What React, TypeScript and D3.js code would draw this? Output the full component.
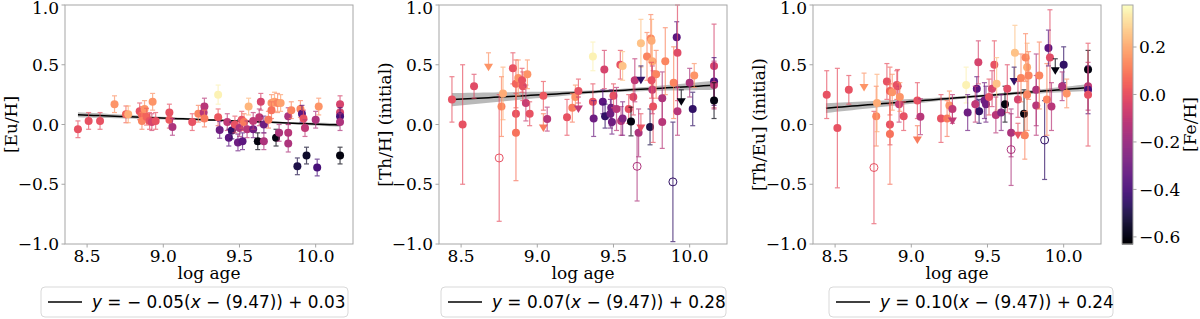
import React, { useRef, useEffect } from 'react';
import * as d3 from 'd3';

const W = 1200;
const H = 319;

const ageDomain = [8.355, 10.245];
const valDomain = [-1.0, 1.0];
const fehDomain = [-0.63, 0.377];
const xTicks = [8.5, 9.0, 9.5, 10.0];
const yTicks = [-1.0, -0.5, 0.0, 0.5, 1.0];
const cbTicks = [-0.6, -0.4, -0.2, 0.0, 0.2];

// [log age, [Fe/H], value, error, kind]  kind: 0 detection, 1 upper limit, 2 open circle
type Star = [number, number, number, number, number];

const euH: Star[] = [
  [8.44, 0.0, -0.04, 0.07, 0], [8.51, 0.0, 0.03, 0.07, 0], [8.585, 0.0, 0.03, 0.07, 0],
  [8.68, 0.15, 0.17, 0.07, 0], [8.755, 0.05, 0.085, 0.07, 0], [8.77, 0.2, 0.085, 0.07, 0],
  [8.845, 0.0, 0.11, 0.07, 0], [8.86, 0.05, 0.08, 0.07, 0], [8.86, 0.12, 0.03, 0.07, 0],
  [8.877, 0.15, 0.13, 0.07, 0], [8.89, 0.05, 0.065, 0.07, 0], [8.91, 0.0, 0.03, 0.07, 0],
  [8.93, 0.15, 0.19, 0.07, 0], [8.925, -0.05, 0.02, 0.07, 0], [8.95, 0.0, 0.03, 0.07, 0],
  [9.04, 0.0, 0.10, 0.07, 0], [9.04, 0.03, 0.04, 0.07, 0], [9.06, -0.15, -0.02, 0.07, 0],
  [9.19, 0.0, 0.02, 0.07, 0], [9.23, 0.12, 0.09, 0.07, 0], [9.27, -0.12, 0.15, 0.07, 0],
  [9.265, -0.12, 0.10, 0.07, 0], [9.27, 0.1, 0.05, 0.07, 0], [9.36, 0.35, 0.25, 0.08, 0],
  [9.36, 0.02, 0.06, 0.07, 0], [9.37, -0.3, -0.045, 0.07, 0], [9.42, -0.1, 0.02, 0.07, 0],
  [9.43, -0.35, -0.11, 0.07, 0], [9.45, -0.45, -0.05, 0.07, 0], [9.47, 0.0, 0.0, 0.07, 0],
  [9.49, -0.3, -0.15, 0.07, 0], [9.50, -0.15, -0.03, 0.07, 0], [9.52, -0.35, -0.14, 0.07, 0],
  [9.515, 0.0, 0.04, 0.07, 0], [9.53, 0.1, 0.02, 0.07, 0], [9.56, 0.22, 0.15, 0.07, 0],
  [9.55, -0.12, -0.04, 0.07, 0], [9.59, -0.3, -0.04, 0.07, 0], [9.59, -0.1, 0.03, 0.07, 0],
  [9.62, -0.6, -0.14, 0.07, 0], [9.64, -0.05, 0.19, 0.07, 0], [9.63, -0.1, 0.06, 0.07, 0],
  [9.66, -0.15, -0.14, 0.07, 0], [9.66, -0.3, 0.0, 0.07, 0], [9.69, 0.1, 0.04, 0.07, 0],
  [9.71, 0.15, 0.18, 0.07, 0], [9.73, 0.18, 0.19, 0.08, 0], [9.75, 0.12, 0.18, 0.08, 0],
  [9.77, 0.18, 0.18, 0.07, 0], [9.71, 0.08, 0.12, 0.07, 0], [9.74, -0.6, -0.11, 0.07, 0],
  [9.76, -0.15, -0.07, 0.07, 0], [9.82, -0.15, 0.07, 0.07, 0], [9.82, -0.12, -0.07, 0.07, 0],
  [9.82, -0.15, -0.16, 0.07, 0], [9.84, 0.12, 0.12, 0.07, 0], [9.88, -0.5, -0.35, 0.07, 0],
  [9.90, 0.12, 0.13, 0.07, 0], [9.91, -0.35, 0.09, 0.07, 0], [9.92, 0.0, 0.05, 0.07, 0],
  [9.93, -0.1, -0.03, 0.07, 0], [9.94, -0.55, -0.26, 0.07, 0], [10.0, -0.15, 0.04, 0.07, 0],
  [10.01, -0.4, -0.36, 0.07, 0], [10.02, 0.15, 0.15, 0.07, 0], [10.16, -0.05, 0.17, 0.07, 0],
  [10.16, -0.05, 0.10, 0.07, 0], [10.16, -0.4, 0.07, 0.07, 0], [10.16, -0.15, 0.02, 0.07, 0],
  [10.16, -0.6, -0.26, 0.07, 0],
];

const thH: Star[] = [
  [8.44, 0.0, 0.21, 0.19, 0], [8.51, 0.0, 0.0, 0.5, 0], [8.585, -0.02, 0.32, 0.1, 0],
  [8.68, 0.15, 0.48, 0.12, 1], [8.75, 0.0, -0.28, 0.53, 2], [8.765, 0.12, 0.15, 0.25, 0],
  [8.775, 0.2, 0.26, 0.22, 0], [8.84, 0.0, 0.47, 0.13, 0], [8.86, 0.0, 0.09, 0.17, 0],
  [8.86, 0.08, -0.07, 0.4, 0], [8.86, 0.05, 0.34, 0.2, 0], [8.875, 0.15, 0.39, 0.15, 0],
  [8.90, 0.0, 0.37, 0.1, 0], [8.905, 0.0, 0.32, 0.12, 0], [8.925, -0.08, 0.18, 0.15, 0],
  [8.935, 0.15, 0.42, 0.12, 0], [8.95, 0.0, 0.09, 0.1, 0], [9.04, 0.02, 0.24, 0.12, 0],
  [9.04, 0.1, -0.03, 0.12, 1], [9.065, -0.12, 0.045, 0.1, 0], [9.195, 0.0, 0.06, 0.15, 0],
  [9.23, 0.1, 0.14, 0.12, 0], [9.25, 0.15, 0.23, 0.1, 0], [9.27, -0.1, 0.13, 0.1, 1],
  [9.27, 0.0, 0.28, 0.1, 0], [9.365, 0.35, 0.57, 0.12, 0], [9.365, 0.0, 0.19, 0.15, 0],
  [9.37, -0.3, 0.05, 0.15, 0], [9.43, -0.35, 0.19, 0.1, 0], [9.44, -0.05, 0.46, 0.16, 0],
  [9.445, -0.45, 0.07, 0.1, 0], [9.48, -0.3, 0.09, 0.12, 0], [9.485, -0.3, 0.14, 0.15, 0],
  [9.49, -0.3, 0.02, 0.1, 0], [9.50, 0.0, 0.24, 0.1, 0], [9.52, -0.12, 0.13, 0.18, 0],
  [9.545, 0.0, 0.50, 0.12, 0], [9.56, 0.25, 0.49, 0.12, 0], [9.55, -0.12, 0.03, 0.12, 0],
  [9.56, -0.25, 0.05, 0.14, 0], [9.60, 0.0, 0.13, 0.12, 0], [9.615, -0.6, 0.025, 0.12, 0],
  [9.63, -0.02, 0.23, 0.15, 0], [9.64, -0.1, 0.37, 0.18, 0], [9.665, -0.15, -0.07, 0.2, 0],
  [9.655, -0.15, -0.35, 0.29, 2], [9.68, 0.25, 0.68, 0.2, 0], [9.68, -0.45, 0.37, 0.12, 1],
  [9.68, 0.0, -0.03, 0.12, 1], [9.72, 0.12, 0.57, 0.2, 0], [9.745, 0.12, 0.72, 0.2, 0],
  [9.75, 0.2, 0.70, 0.18, 0], [9.755, 0.2, 0.53, 0.2, 0], [9.74, -0.5, -0.02, 0.15, 0],
  [9.755, -0.1, 0.29, 0.2, 0], [9.76, 0.0, 0.15, 0.3, 0], [9.78, 0.12, 0.42, 0.2, 0],
  [9.75, 0.0, 0.37, 0.15, 0], [9.84, 0.12, 0.53, 0.28, 0], [9.82, -0.15, 0.22, 0.22, 0],
  [9.82, -0.12, 0.02, 0.22, 0], [9.895, 0.12, 0.35, 0.3, 0], [9.915, -0.35, 0.73, 0.13, 0],
  [9.92, -0.02, 0.60, 0.4, 0], [9.92, -0.12, 0.11, 0.2, 0], [9.945, -0.6, 0.19, 0.1, 1],
  [9.89, -0.45, -0.48, 0.5, 2], [10.0, -0.15, 0.35, 0.12, 0], [10.02, -0.45, 0.13, 0.14, 0],
  [10.03, 0.15, 0.41, 0.1, 0], [10.16, -0.05, 0.49, 0.35, 0], [10.16, -0.4, 0.36, 0.2, 0],
  [10.16, -0.1, 0.33, 0.2, 0], [10.16, -0.6, 0.20, 0.15, 0],
];

const thEu: Star[] = [
  [8.445, 0.0, 0.25, 0.2, 0], [8.515, 0.0, -0.03, 0.5, 0], [8.59, 0.0, 0.29, 0.12, 0],
  [8.69, 0.15, 0.31, 0.12, 1], [8.755, 0.0, -0.36, 0.47, 2], [8.77, 0.12, 0.07, 0.25, 0],
  [8.775, 0.2, 0.18, 0.24, 0], [8.84, 0.0, 0.36, 0.15, 0], [8.86, 0.0, 0.0, 0.17, 0],
  [8.86, 0.08, -0.08, 0.42, 0], [8.86, 0.05, 0.28, 0.2, 0], [8.875, 0.15, 0.27, 0.15, 0],
  [8.905, 0.0, 0.33, 0.12, 0], [8.91, 0.0, 0.32, 0.14, 0], [8.92, -0.08, 0.17, 0.15, 0],
  [8.925, 0.15, 0.23, 0.12, 0], [8.95, 0.0, 0.07, 0.12, 0], [9.04, 0.0, 0.20, 0.15, 0],
  [9.04, 0.1, -0.13, 0.12, 1], [9.06, -0.12, 0.065, 0.15, 0], [9.195, 0.0, 0.05, 0.2, 0],
  [9.235, 0.1, 0.05, 0.15, 0], [9.25, 0.15, 0.16, 0.12, 0], [9.27, -0.1, 0.13, 0.12, 0],
  [9.27, -0.1, 0.03, 0.08, 1], [9.36, 0.35, 0.33, 0.15, 0], [9.37, -0.3, 0.10, 0.15, 0],
  [9.43, -0.35, 0.30, 0.1, 0], [9.44, -0.05, 0.52, 0.18, 0], [9.445, -0.45, 0.11, 0.1, 0],
  [9.42, -0.1, 0.17, 0.15, 0], [9.48, -0.3, 0.20, 0.15, 0], [9.49, -0.3, 0.17, 0.15, 0],
  [9.51, 0.0, 0.23, 0.15, 0], [9.53, -0.05, 0.30, 0.15, 0], [9.545, 0.0, 0.50, 0.2, 0],
  [9.56, 0.25, 0.34, 0.22, 0], [9.555, -0.12, 0.08, 0.15, 0], [9.59, -0.25, 0.10, 0.15, 0],
  [9.615, -0.6, 0.17, 0.15, 0], [9.63, -0.02, 0.30, 0.2, 0], [9.655, -0.15, -0.07, 0.2, 0],
  [9.655, -0.15, -0.21, 0.3, 2], [9.68, 0.25, 0.60, 0.23, 0], [9.675, -0.45, 0.36, 0.12, 1],
  [9.70, -0.05, 0.21, 0.15, 0], [9.72, 0.12, 0.39, 0.2, 0], [9.74, -0.6, 0.09, 0.2, 0],
  [9.745, 0.12, -0.09, 0.2, 0], [9.75, 0.12, 0.56, 0.2, 0], [9.76, 0.2, 0.48, 0.2, 0],
  [9.77, 0.12, 0.41, 0.2, 0], [9.76, 0.12, 0.25, 0.3, 0], [9.70, 0.0, -0.09, 0.1, 1],
  [9.82, -0.15, 0.29, 0.3, 0], [9.82, -0.12, 0.16, 0.25, 0], [9.84, 0.12, 0.41, 0.28, 0],
  [9.875, -0.45, -0.13, 0.33, 2], [9.89, 0.12, 0.21, 0.3, 0], [9.90, -0.35, 0.64, 0.15, 0],
  [9.91, -0.02, 0.56, 0.4, 0], [9.92, -0.12, 0.15, 0.2, 0], [9.945, -0.6, 0.45, 0.1, 1],
  [10.0, -0.45, 0.50, 0.15, 0], [9.99, -0.15, 0.32, 0.12, 0], [10.02, 0.15, 0.26, 0.12, 0],
  [10.16, -0.6, 0.46, 0.16, 0], [10.16, -0.1, 0.32, 0.2, 0], [10.16, -0.4, 0.29, 0.2, 0],
  [10.16, 0.0, 0.25, 0.43, 0],
];

// fit: slope, intercept about the pivot, and the band's spread
const slopes = [-0.05, 0.07, 0.10];
const intercepts = [0.03, 0.28, 0.24];
const pivot = 9.47;
const bandS0 = [0.006, 0.012, 0.01];
const bandSb = [0.02, 0.052, 0.038];
const fitRange = [8.44, 10.16];

const yLabels = ['[Eu/H]', '[Th/H] (initial)', '[Th/Eu] (initial)'];
const legendSlope = ['\u2212 0.05', '0.07', '0.10'];
const legendIcpt = ['0.03', '0.28', '0.24'];

const panels = [
  { data: euH, left: 65, legX: 41, legW: 307 },
  { data: thH, left: 439, legX: 441, legW: 285 },
  { data: thEu, left: 813, legX: 829, legW: 284 },
];
const plotW = 288;
const top = 5;
const bottom = 244;
const fs = 17;

const App = () => {
  const svgRef = useRef<SVGSVGElement>(null);

  useEffect(() => {
    const svg = d3.select(svgRef.current);
    svg.selectAll('*').remove();

    const color = (f: number) => d3.interpolateMagma((f - fehDomain[0]) / (fehDomain[1] - fehDomain[0]));
    const y = d3.scaleLinear().domain(valDomain).range([bottom, top]);
    const serif = 'DejaVu Serif, serif';
    const sans = 'DejaVu Sans, sans-serif';
    const spine = '#a6a6a6';
    const fmt = (t: number) => d3.format('.1f')(t).replace('-', '\u2212');

    panels.forEach((p, i) => {
      const x = d3.scaleLinear().domain(ageDomain).range([p.left, p.left + plotW]);
      const g = svg.append('g');

      // fit band and line
      const xs = d3.range(0, 51).map(k => fitRange[0] + (fitRange[1] - fitRange[0]) * k / 50);
      const fy = (a: number) => slopes[i] * (a - pivot) + intercepts[i];
      const hw = (a: number) => Math.sqrt(bandS0[i] ** 2 + (bandSb[i] * (a - pivot)) ** 2);
      const area = d3.area<number>()
        .x(a => x(a))
        .y0(a => y(fy(a) - hw(a)))
        .y1(a => y(fy(a) + hw(a)));
      g.append('path').attr('d', area(xs)).attr('fill', '#7f7f7f').attr('opacity', 0.55);
      g.append('path')
        .attr('d', d3.line<number>().x(a => x(a)).y(a => y(fy(a)))(xs))
        .attr('stroke', '#000').attr('stroke-width', 1.5).attr('fill', 'none');

      // stars
      p.data.forEach(([age, feh, v, e, kind]) => {
        const c = color(feh);
        const cx = x(age);
        const y1 = y(v + e);
        const y0 = kind === 1 ? y(v) : y(v - e);
        const eb = g.append('g').attr('stroke', c).attr('opacity', 0.7).attr('stroke-width', 1.2);
        eb.append('line').attr('x1', cx).attr('x2', cx).attr('y1', y1).attr('y2', y0);
        eb.append('line').attr('x1', cx - 2.5).attr('x2', cx + 2.5).attr('y1', y1).attr('y2', y1);
        if (kind !== 1) {
          eb.append('line').attr('x1', cx - 2.5).attr('x2', cx + 2.5).attr('y1', y0).attr('y2', y0);
        }
        const cy = y(v);
        if (kind === 0) {
          g.append('circle').attr('cx', cx).attr('cy', cy).attr('r', 4).attr('fill', c);
        } else if (kind === 2) {
          g.append('circle').attr('cx', cx).attr('cy', cy).attr('r', 4)
            .attr('fill', 'none').attr('stroke', c).attr('stroke-width', 1);
        } else {
          g.append('path')
            .attr('d', `M${cx - 4.5},${cy - 3.5}L${cx + 4.5},${cy - 3.5}L${cx},${cy + 4}Z`)
            .attr('fill', c);
        }
      });

      // frame
      g.append('rect').attr('x', p.left).attr('y', top).attr('width', plotW).attr('height', bottom - top)
        .attr('fill', 'none').attr('stroke', spine).attr('stroke-width', 1);

      // x axis
      xTicks.forEach(t => {
        g.append('line').attr('x1', x(t)).attr('x2', x(t)).attr('y1', bottom).attr('y2', bottom + 3.5)
          .attr('stroke', spine);
        g.append('text').attr('x', x(t)).attr('y', bottom + 18).attr('text-anchor', 'middle')
          .attr('font-family', serif).attr('font-size', fs).text(t.toFixed(1));
      });
      g.append('text').attr('x', p.left + plotW / 2).attr('y', bottom + 35).attr('text-anchor', 'middle')
        .attr('font-family', serif).attr('font-size', fs).text('log age');

      // y axis
      yTicks.forEach(t => {
        g.append('line').attr('x1', p.left - 3.5).attr('x2', p.left).attr('y1', y(t)).attr('y2', y(t))
          .attr('stroke', spine);
        g.append('text').attr('x', p.left - 6).attr('y', y(t)).attr('dy', t === 1 ? '0.5em' : '0.36em')
          .attr('text-anchor', 'end').attr('font-family', serif).attr('font-size', fs)
          .text(fmt(t));
      });
      g.append('text')
        .attr('transform', `translate(${p.left - 54},${(top + bottom) / 2}) rotate(-90)`)
        .attr('text-anchor', 'middle').attr('dy', '0.36em')
        .attr('font-family', serif).attr('font-size', fs).text(yLabels[i]);

      // legend
      const lg = g.append('g');
      lg.append('rect').attr('x', p.legX).attr('y', 287).attr('width', p.legW).attr('height', 30)
        .attr('rx', 4).attr('fill', '#fff').attr('stroke', '#d9d9d9');
      lg.append('line').attr('x1', p.legX + 7).attr('x2', p.legX + 41).attr('y1', 302).attr('y2', 302)
        .attr('stroke', '#000').attr('stroke-width', 1.5);
      const tx = lg.append('text').attr('x', p.legX + 51).attr('y', 308)
        .attr('font-family', sans).attr('font-size', 16.9);
      tx.append('tspan').attr('font-style', 'italic').text('y');
      tx.append('tspan').text(` = ${legendSlope[i]}(`);
      tx.append('tspan').attr('font-style', 'italic').text('x');
      tx.append('tspan').text(` \u2212 (9.47)) + ${legendIcpt[i]}`);
    });

    // colorbar
    const cbX = 1122;
    const cbW = 11;
    const cy = d3.scaleLinear().domain(fehDomain).range([bottom, top]);
    const cb = svg.append('g');
    const n = 240;
    d3.range(n).forEach(k => {
      const f0 = fehDomain[0] + (fehDomain[1] - fehDomain[0]) * k / n;
      const f1 = fehDomain[0] + (fehDomain[1] - fehDomain[0]) * (k + 1) / n;
      cb.append('rect').attr('x', cbX).attr('width', cbW).attr('y', cy(f1)).attr('height', cy(f0) - cy(f1) + 0.5)
        .attr('fill', d3.interpolateMagma((k + 0.5) / n));
    });
    cb.append('rect').attr('x', cbX).attr('y', top).attr('width', cbW).attr('height', bottom - top)
      .attr('fill', 'none').attr('stroke', spine);
    cbTicks.forEach(t => {
      cb.append('line').attr('x1', cbX + cbW).attr('x2', cbX + cbW + 3.5).attr('y1', cy(t)).attr('y2', cy(t))
        .attr('stroke', spine);
      cb.append('text').attr('x', cbX + cbW + 6).attr('y', cy(t)).attr('dy', '0.36em')
        .attr('font-family', serif).attr('font-size', fs)
        .text(fmt(t));
    });
    cb.append('text')
      .attr('transform', `translate(1190,${(top + bottom) / 2}) rotate(-90)`)
      .attr('text-anchor', 'middle').attr('dy', '0.36em')
      .attr('font-family', serif).attr('font-size', fs).text('[Fe/H]');
  }, []);

  return (
    <div style={{ position: 'absolute', left: 0, top: 0, width: W, height: H, background: '#fff' }}>
      <svg ref={svgRef} width={W} height={H}></svg>
    </div>
  );
};

export default App;
